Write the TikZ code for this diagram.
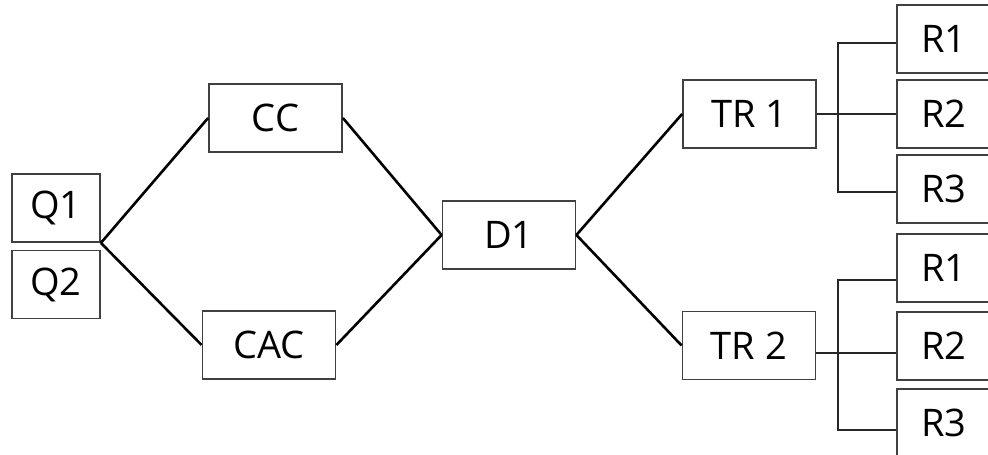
\documentclass[tikz,border=0pt]{standalone}
\usepackage{fontspec}
\setmainfont{Open Sans}
\begin{document}
\begin{tikzpicture}[x=0.5pt,y=-0.5pt,
  box/.style={draw=black!75, line width=0.9pt, fill=white, minimum height=34pt,
    inner sep=0pt, font=\fontsize{19}{22}\selectfont},
  wide/.style={box, minimum width=66.5pt},
  narrow/.style={box, minimum width=44pt},
  leaf/.style={box, minimum width=47pt},
  link/.style={line width=1.3pt, black},
  tree/.style={line width=0.8pt, black!85}]
\useasboundingbox (0,0) rectangle (988,454);

% left pair and first stage
\node[narrow] (q1) at (56,208) {Q1};
\node[narrow] (q2) at (56,284.5) {Q2};
\node[wide] (cc) at (275.5,118) {CC};
\node[wide] (cac) at (269,345) {CAC};
\node[wide] (d1) at (509,235) {D1};
\node[wide] (tr1) at (749.5,114) {TR 1};
\node[wide] (tr2) at (749,345.5) {TR 2};

% leaves
\node[leaf] (ra1) at (944,39) {R1};
\node[leaf] (ra2) at (944,114) {R2};
\node[leaf] (ra3) at (944,189) {R3};
\node[leaf] (rb1) at (944,268) {R1};
\node[leaf] (rb2) at (944,346) {R2};
\node[leaf] (rb3) at (944,423) {R3};

% diagonal links
\coordinate (j) at (q1.south east);
\draw[link] (j) -- (cc.west);
\draw[link] (j) -- (cac.west);
\draw[link] (cc.east) -- (d1.west);
\draw[link] (cac.east) -- (d1.west);
\draw[link] (d1.east) -- (tr1.west);
\draw[link] (d1.east) -- (tr2.west);

% upper tree
\coordinate (ka) at (838,0);
\coordinate (ba1) at ([yshift=-2pt]ra1.west);
\coordinate (ba2) at (ra2.west);
\coordinate (ba3) at ([yshift=-1.5pt]ra3.west);
\draw[tree] (ba1) -- (ba1 -| ka) -- (ba3 -| ka) -- (ba3);
\draw[tree] (tr1.east |- ba2) -- (ba2);

% lower tree
\coordinate (kb) at (838,0);
\coordinate (bb1) at ([yshift=-6pt]rb1.west);
\coordinate (bb2) at ([yshift=-3.5pt]rb2.west);
\coordinate (bb3) at ([yshift=-3.5pt]rb3.west);
\draw[tree] (bb1) -- (bb1 -| kb) -- (bb3 -| kb) -- (bb3);
\draw[tree] (tr2.east |- bb2) -- (bb2);
\end{tikzpicture}
\end{document}
